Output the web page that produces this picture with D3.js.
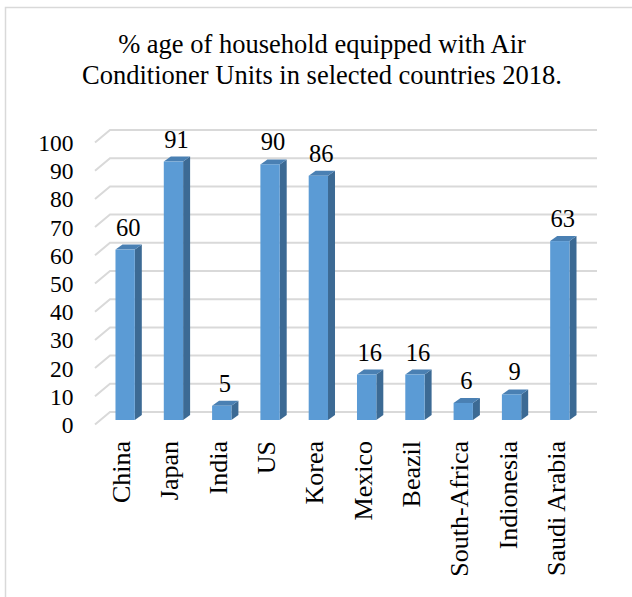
<!DOCTYPE html>
<html><head><meta charset="utf-8">
<script src="https://cdn.jsdelivr.net/npm/d3@7"></script>
<style>body{margin:0;background:#fff}svg{display:block}</style>
</head><body><div id="c"></div>
<script>
const categories = ["China","Japan","India","US","Korea","Mexico","Beazil","South-Africa","Indionesia","Saudi Arabia"];
const values = [60,91,5,90,86,16,16,6,9,63];
const yTicks = [0,10,20,30,40,50,60,70,80,90,100];
const titleLines = ["% age of household equipped with Air","Conditioner Units in selected countries 2018."];

const FONT = "Liberation Serif";
const W = 632, H = 597;
const svg = d3.select("#c").append("svg").attr("width", W).attr("height", H);
svg.append("rect").attr("x",5.5).attr("y",7.5).attr("width",700).attr("height",700)
  .attr("fill","#fff").attr("stroke","#d9d9d9").attr("stroke-width",1.5);

svg.selectAll("text.title").data(titleLines).join("text").attr("class","title")
  .attr("x",322).attr("y",(d,i)=>53+i*31).attr("text-anchor","middle")
  .attr("font-family", FONT).attr("font-size",26.5).text(d=>d);

const yFront = d3.scaleLinear().domain([0,100]).range([424.5,142.5]);
const yBar = d3.scaleLinear().domain([0,100]).range([420,136]);
const x = d3.scaleBand().domain(categories).range([101,584]).paddingInner(0.6).paddingOuter(0.3);
const ddx = 15, ddy = 12.5; // wall depth
const bdx = 7, bdy = 5;   // bar depth

const grid = svg.append("g");
yTicks.forEach(t=>{
  const y0 = yFront(t);
  grid.append("path").attr("d",`M95,${y0}L${95+ddx},${y0-ddy}L597,${y0-ddy}`)
    .attr("fill","none").attr("stroke","#d9d9d9").attr("stroke-width",2);
});
svg.append("g").selectAll("text").data(yTicks).join("text")
  .attr("x",73.5).attr("y",d=>yFront(d)+8.5).attr("text-anchor","end")
  .attr("font-family", FONT).attr("font-size",23.5).text(d=>d);

const bars = svg.append("g");
categories.forEach((c,i)=>{
  const v = values[i], bx = x(c), w = x.bandwidth(), yt = yBar(v), yb = yBar(0);
  bars.append("path").attr("d",`M${bx+w},${yt}L${bx+w+bdx},${yt-bdy}L${bx+w+bdx},${yb-bdy}L${bx+w},${yb}Z`).attr("fill","#3c6a94");
  bars.append("path").attr("d",`M${bx},${yt}L${bx+bdx},${yt-bdy}L${bx+w+bdx},${yt-bdy}L${bx+w},${yt}Z`).attr("fill","#4a80b3");
  bars.append("rect").attr("x",bx).attr("y",yt).attr("width",w).attr("height",yb-yt).attr("fill","#5b9bd5");
  svg.append("text").attr("x",bx+w/2+3).attr("y",yt-14).attr("text-anchor","middle")
    .attr("font-family", FONT).attr("font-size",24.5).text(v);
  svg.append("text").attr("transform",`translate(${bx+w/2+5},441) rotate(-90)`)
    .attr("text-anchor","end").attr("font-family", FONT).attr("font-size",26).text(c);
});
</script></body></html>
